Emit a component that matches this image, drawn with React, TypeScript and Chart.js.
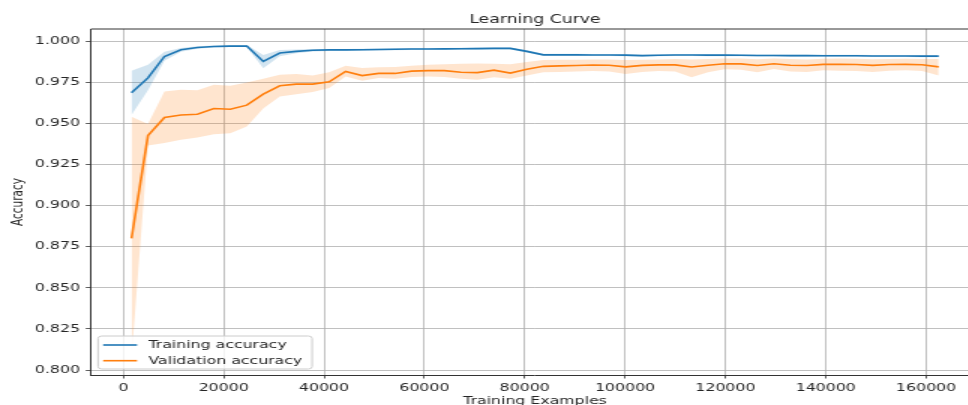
import { useEffect, useRef } from 'react';
import { Chart, registerables } from 'chart.js';

Chart.register(...registerables);

// ---------------- data ----------------
const trainSizes = [
  1625, 4908, 8191, 11474, 14758, 18041, 21324, 24607, 27890, 31173,
  34457, 37740, 41023, 44306, 47589, 50872, 54156, 57439, 60722, 64005,
  67288, 70571, 73855, 77138, 80421, 83704, 86987, 90270, 93554, 96837,
  100120, 103403, 106686, 109969, 113253, 116536, 119819, 123102, 126385, 129668,
  132952, 136235, 139518, 142801, 146084, 149367, 152651, 155934, 159217, 162500,
];

const trainMean = [
  0.9686, 0.9776, 0.9906, 0.9947, 0.9961, 0.9967, 0.9969, 0.9969, 0.9876, 0.9927,
  0.9937, 0.9944, 0.9946, 0.9946, 0.9947, 0.9948, 0.995, 0.9951, 0.9951, 0.9952,
  0.9953, 0.9954, 0.9955, 0.9955, 0.9937, 0.9916, 0.9916, 0.9916, 0.9915, 0.9915,
  0.9914, 0.9911, 0.9913, 0.9915, 0.9915, 0.9914, 0.9914, 0.9913, 0.9912, 0.9912,
  0.9911, 0.9911, 0.991, 0.991, 0.991, 0.9909, 0.9909, 0.9909, 0.9908, 0.9908,
];

const trainUpper = [
  0.982, 0.9855, 0.9935, 0.9958, 0.9968, 0.9973, 0.9975, 0.9975, 0.9915, 0.9946,
  0.9948, 0.9951, 0.9952, 0.9952, 0.9953, 0.9954, 0.9956, 0.9957, 0.9957, 0.9958,
  0.9959, 0.996, 0.9961, 0.9961, 0.9944, 0.9922, 0.9922, 0.9922, 0.9921, 0.9921,
  0.992, 0.9917, 0.9919, 0.9921, 0.9921, 0.992, 0.992, 0.9919, 0.9918, 0.9918,
  0.9917, 0.9917, 0.9916, 0.9916, 0.9916, 0.9915, 0.9915, 0.9915, 0.9914, 0.9914,
];

const trainLower = [
  0.955, 0.97, 0.988, 0.9935, 0.9953, 0.996, 0.9963, 0.9963, 0.9835, 0.9908,
  0.9926, 0.9937, 0.994, 0.994, 0.9941, 0.9942, 0.9944, 0.9945, 0.9945, 0.9946,
  0.9947, 0.9948, 0.9949, 0.9949, 0.993, 0.991, 0.991, 0.991, 0.9909, 0.9909,
  0.9908, 0.9905, 0.9907, 0.9909, 0.9909, 0.9908, 0.9908, 0.9907, 0.9906, 0.9906,
  0.9905, 0.9905, 0.9904, 0.9904, 0.9904, 0.9903, 0.9903, 0.9903, 0.9902, 0.9902,
];

const valMean = [
  0.88, 0.9425, 0.9535, 0.955, 0.9555, 0.959, 0.9585, 0.961, 0.9677, 0.9728,
  0.9738, 0.9738, 0.9752, 0.9815, 0.979, 0.9803, 0.9803, 0.9817, 0.982, 0.982,
  0.981, 0.9808, 0.9823, 0.9805, 0.9828, 0.9846, 0.9849, 0.9851, 0.9854, 0.9853,
  0.9843, 0.9852, 0.9855, 0.9855, 0.9842, 0.9853, 0.9862, 0.9861, 0.9851, 0.9862,
  0.9853, 0.9851, 0.9858, 0.9858, 0.9857, 0.9852, 0.9857, 0.9858, 0.9856, 0.9843,
];

const valUpper = [
  0.954, 0.9495, 0.9693, 0.9704, 0.97, 0.9734, 0.9728, 0.9748, 0.977, 0.9795,
  0.98, 0.979, 0.981, 0.985, 0.9836, 0.984, 0.9842, 0.985, 0.9855, 0.9858,
  0.9862, 0.9864, 0.9862, 0.9858, 0.9872, 0.9884, 0.9886, 0.9886, 0.9888, 0.9887,
  0.9884, 0.9886, 0.9888, 0.989, 0.9888, 0.989, 0.9894, 0.9893, 0.9889, 0.9893,
  0.989, 0.9888, 0.9892, 0.9893, 0.9892, 0.9889, 0.9891, 0.9892, 0.9891, 0.989,
];

const valLower = [
  0.807, 0.9365, 0.938, 0.94, 0.9414, 0.9434, 0.944, 0.948, 0.959, 0.9663,
  0.9677, 0.969, 0.9714, 0.9785, 0.9758, 0.9775, 0.977, 0.9782, 0.9785, 0.9782,
  0.977, 0.9765, 0.978, 0.977, 0.979, 0.981, 0.9812, 0.9815, 0.9818, 0.9815,
  0.98, 0.9812, 0.9818, 0.9815, 0.978, 0.981, 0.9828, 0.9826, 0.981, 0.983,
  0.9815, 0.9812, 0.9822, 0.982, 0.9818, 0.9812, 0.982, 0.9822, 0.9818, 0.979,
];

const xTicks = [0, 20000, 40000, 60000, 80000, 100000, 120000, 140000, 160000];
const yTicks = [0.8, 0.825, 0.85, 0.875, 0.9, 0.925, 0.95, 0.975, 1.0];

const chartTitle = 'Learning Curve';
const xLabel = 'Training Examples';
const yLabel = 'Accuracy';
const seriesLabels = ['Training accuracy', 'Validation accuracy'];

// ---------------- styling ----------------
const STRETCH = 1.5; // horizontal stretch of the reference image
const W = 660;
const H = 410;
const FONT = '"DejaVu Sans", sans-serif';
const TEXT = '#262626';
const BLUE = '#1f77b4';
const ORANGE = '#ff7f0e';
const GRID = '#b0b0b0';
const SPINE = '#333333';

const pts = (ys: number[]) => trainSizes.map((x, i) => ({ x, y: ys[i] }));

const overlayPlugin = {
  id: 'overlay',
  afterDraw(chart: any) {
    const { ctx, chartArea: a } = chart;
    ctx.save();
    // top & right spines
    ctx.strokeStyle = SPINE;
    ctx.lineWidth = 1;
    ctx.beginPath();
    ctx.moveTo(a.left, a.top);
    ctx.lineTo(a.right, a.top);
    ctx.lineTo(a.right, a.bottom);
    ctx.stroke();

    // title
    ctx.font = `11.5px ${FONT}`;
    ctx.fillStyle = TEXT;
    ctx.textAlign = 'center';
    ctx.textBaseline = 'alphabetic';
    ctx.fillText(chartTitle, (a.left + a.right) / 2, a.top - 6);

    // legend
    const lx = a.left + 4.7;
    const lw = 142.7;
    const lb = a.bottom - 6;
    const lh = 33;
    const ly = lb - lh;
    const r = 2.5;
    ctx.beginPath();
    ctx.moveTo(lx + r, ly);
    ctx.lineTo(lx + lw - r, ly);
    ctx.quadraticCurveTo(lx + lw, ly, lx + lw, ly + r);
    ctx.lineTo(lx + lw, lb - r);
    ctx.quadraticCurveTo(lx + lw, lb, lx + lw - r, lb);
    ctx.lineTo(lx + r, lb);
    ctx.quadraticCurveTo(lx, lb, lx, lb - r);
    ctx.lineTo(lx, ly + r);
    ctx.quadraticCurveTo(lx, ly, lx + r, ly);
    ctx.closePath();
    ctx.fillStyle = 'rgba(255,255,255,0.8)';
    ctx.fill();
    ctx.strokeStyle = '#cccccc';
    ctx.lineWidth = 1;
    ctx.stroke();

    ctx.font = `10.5px ${FONT}`;
    ctx.textAlign = 'left';
    ctx.textBaseline = 'middle';
    [0, 1].forEach((i) => {
      const ds = chart.data.datasets[i];
      const cy = ly + 9 + i * 15.7;
      ctx.strokeStyle = ds.borderColor;
      ctx.lineWidth = 1.6;
      ctx.beginPath();
      ctx.moveTo(lx + 3.4, cy);
      ctx.lineTo(lx + 26, cy);
      ctx.stroke();
      ctx.fillStyle = TEXT;
      ctx.fillText(ds.label, lx + 33.6, cy + 0.5);
    });
    ctx.restore();
  },
};

export default function App() {
  const ref = useRef<HTMLCanvasElement | null>(null);

  useEffect(() => {
    if (!ref.current) return;
    const bandCommon = {
      borderWidth: 0,
      borderColor: 'rgba(0,0,0,0)',
      pointRadius: 0,
      tension: 0,
    };
    const chart = new Chart(ref.current, {
      type: 'line',
      data: {
        datasets: [
          {
            label: seriesLabels[0],
            data: pts(trainMean),
            borderColor: BLUE,
            backgroundColor: BLUE,
            borderWidth: 1.6,
            pointRadius: 0,
            fill: false,
            tension: 0,
          },
          {
            label: seriesLabels[1],
            data: pts(valMean),
            borderColor: ORANGE,
            backgroundColor: ORANGE,
            borderWidth: 1.6,
            pointRadius: 0,
            fill: false,
            tension: 0,
          },
          { label: 'train-lower', data: pts(trainLower), fill: false, ...bandCommon },
          {
            label: 'train-upper',
            data: pts(trainUpper),
            fill: '-1',
            backgroundColor: 'rgba(31,119,180,0.2)',
            ...bandCommon,
          },
          { label: 'val-lower', data: pts(valLower), fill: false, ...bandCommon },
          {
            label: 'val-upper',
            data: pts(valUpper),
            fill: '-1',
            backgroundColor: 'rgba(255,127,14,0.2)',
            ...bandCommon,
          },
        ],
      },
      options: {
        responsive: false,
        animation: false,
        devicePixelRatio: 1,
        events: [],
        layout: { padding: { top: 29, right: W - 979 / STRETCH, left: 0, bottom: 0 } },
        plugins: {
          legend: { display: false },
          title: { display: false },
          tooltip: { enabled: false },
          filler: { drawTime: 'beforeDatasetsDraw' },
        },
        scales: {
          x: {
            type: 'linear',
            min: -6445,
            max: 170545,
            afterBuildTicks: (s: any) => {
              s.ticks = xTicks.map((v) => ({ value: v }));
            },
            afterFit: (s: any) => {
              s.height = H - 375;
            },
            ticks: {
              callback: (v: any) => String(v),
              font: { family: FONT, size: 10.5 },
              color: TEXT,
              padding: 3,
              maxRotation: 0,
              autoSkip: false,
            },
            grid: {
              color: GRID,
              lineWidth: 0.8,
              tickLength: 3.5,
              tickColor: SPINE,
              tickWidth: 0.8,
            },
            border: { display: true, color: SPINE, width: 1 },
            title: {
              display: true,
              text: xLabel,
              font: { family: FONT, size: 10.5 },
              color: TEXT,
              padding: { top: 0, bottom: 2.7 },
            },
          },
          y: {
            type: 'linear',
            min: 0.797,
            max: 1.0073,
            afterBuildTicks: (s: any) => {
              s.ticks = yTicks.map((v) => ({ value: v }));
            },
            afterFit: (s: any) => {
              s.width = 91 / STRETCH;
            },
            ticks: {
              callback: (v: any) => Number(v).toFixed(3),
              font: { family: FONT, size: 10.5 },
              color: TEXT,
              padding: 3.8,
              autoSkip: false,
            },
            grid: {
              color: GRID,
              lineWidth: 0.8,
              tickLength: 3.5,
              tickColor: SPINE,
              tickWidth: 0.8,
            },
            border: { display: true, color: SPINE, width: 1 },
            title: {
              display: true,
              text: yLabel,
              font: { family: FONT, size: 10.5 },
              color: TEXT,
              padding: { top: 6, bottom: 0 },
            },
          },
        },
      } as any,
      plugins: [overlayPlugin],
    });
    return () => chart.destroy();
  }, []);

  return (
    <div
      style={{
        position: 'fixed',
        left: 0,
        top: 0,
        width: 968,
        height: 405,
        overflow: 'hidden',
        background: '#ffffff',
      }}
    >
      <canvas
        ref={ref}
        width={W}
        height={H}
        style={{ width: W * STRETCH, height: H, display: 'block' }}
      />
    </div>
  );
}
